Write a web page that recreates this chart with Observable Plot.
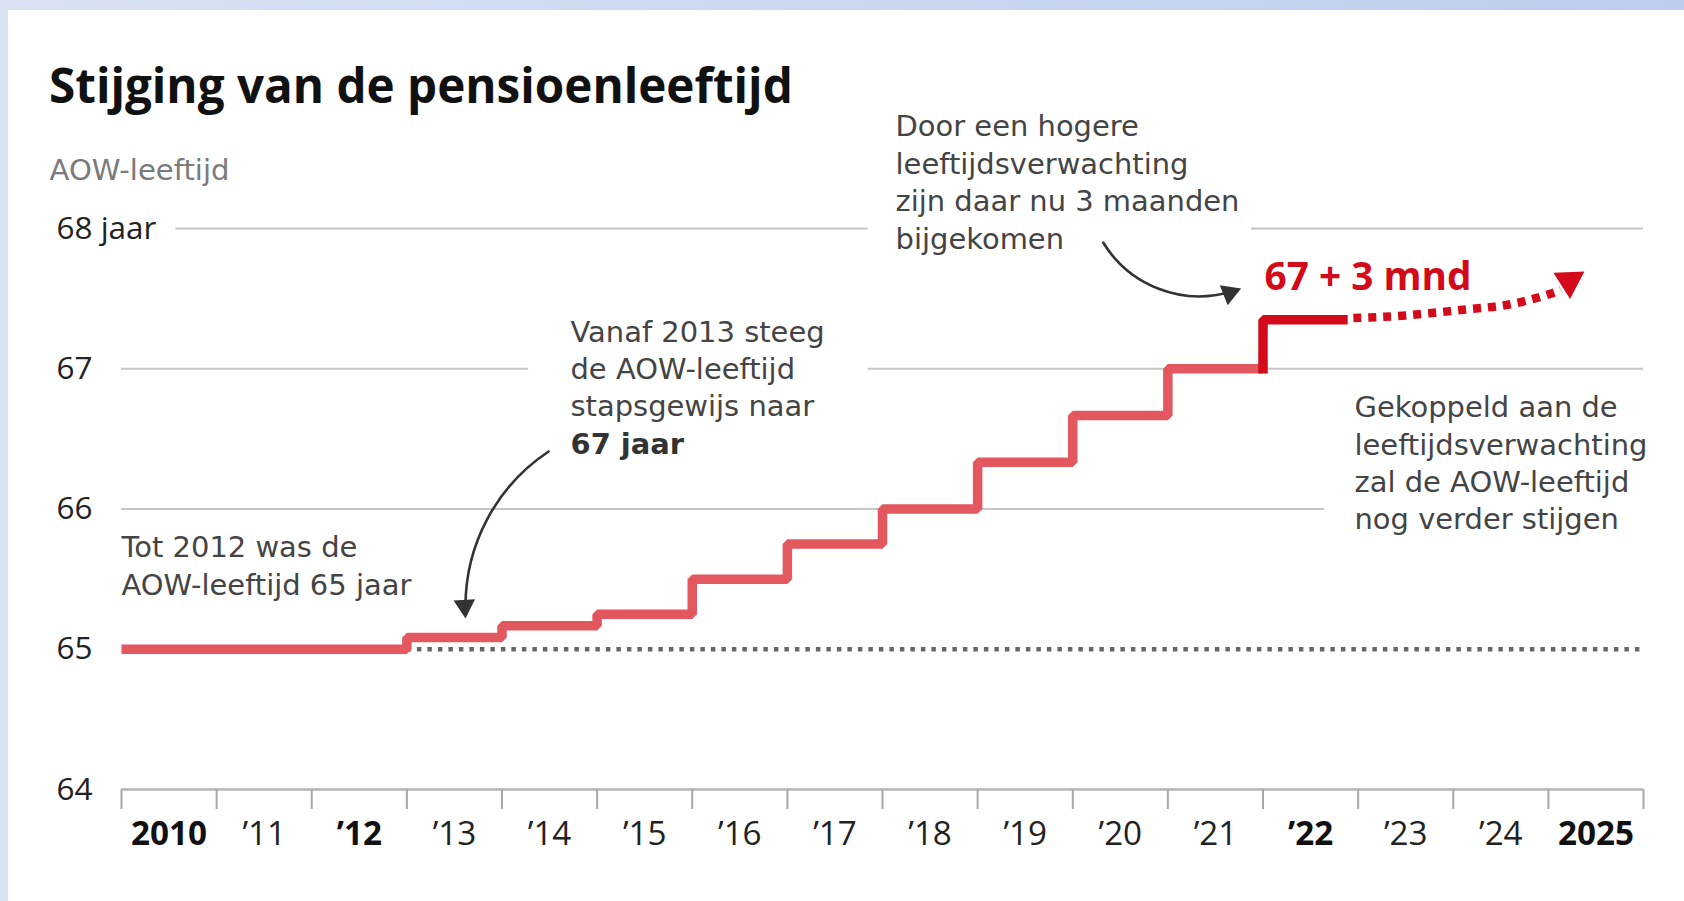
<!DOCTYPE html>
<html><head><meta charset="utf-8">
<script src="https://cdn.jsdelivr.net/npm/d3@7"></script>
<script src="https://cdn.jsdelivr.net/npm/@observablehq/plot@0.6"></script>
<style>
html,body{margin:0;padding:0;}
body{width:1684px;height:901px;overflow:hidden;background:linear-gradient(to right,#d8e2f3,#bccdee);position:relative;font-family:"Open Sans",sans-serif;}
#panel{position:absolute;left:8px;top:10px;width:1676px;height:891px;background:#fff;}
#title{position:absolute;left:41px;margin:0;font-weight:700;color:#111;line-height:1;white-space:nowrap;}
#chart{position:absolute;left:0;top:102px;}
</style></head><body>
<div id="panel"><h1 id="title">Stijging van de pensioenleeftijd</h1><div id="chart"></div></div>
<script>
// ---- data ----
const stepYears = [2010, 2013, 2014, 2015, 2016, 2017, 2018, 2019, 2020, 2021, 2022];
const stepAges  = [65, 65.083, 65.167, 65.25, 65.5, 65.75, 66, 66.333, 66.667, 67, 67];
const newYears  = [2022, 2022, 2022.84];
const newAges   = [67, 67.35, 67.35];
const trendYears = [2022.95, 2023.5, 2024.1, 2024.6, 2025.0, 2025.13];
const trendAges  = [67.362, 67.38, 67.42, 67.46, 67.53, 67.565];
const tipYear = 2025.22, tipAge = 67.625;

const yTicks = [64, 65, 66, 67, 68];
const yTickLabels = ["64", "65", "66", "67", "68 jaar"];
const tickYears = d3.range(2010, 2027);
const labelYears = d3.range(2010, 2026);
const labelTexts = ["2010", "’11", "’12", "’13", "’14", "’15", "’16", "’17", "’18", "’19", "’20", "’21", "’22", "’23", "’24", "2025"];
const boldYears = [2010, 2012, 2022, 2025];

const gridAges = [68, 68, 67, 67, 66];
const gridFrom = [2010.57, 2021.88, 2010, 2017.85, 2010];
const gridTo   = [2017.85, 2026, 2014.28, 2026, 2022.65];

const noteTexts = [
  "Door een hogere\nleeftijdsverwachting\nzijn daar nu 3 maanden\nbijgekomen",
  "Vanaf 2013 steeg\nde AOW-leeftijd\nstapsgewijs naar",
  "Tot 2012 was de\nAOW-leeftijd 65 jaar",
  "Gekoppeld aan de\nleeftijdsverwachting\nzal de AOW-leeftijd\nnog verder stijgen"
];
const noteYears = [2018.137, 2014.72, 2010.0, 2022.962];
const noteAges  = [67.857, 66.660, 65.390, 65.854];
const boldNote = "67 jaar", boldNoteYear = 2014.72, boldNoteAge = 66.389;
const bigLabel = "67 + 3 mnd", bigLabelYear = 2022.016, bigLabelAge = 67.558;

// annotation arrows: [x1, y1, x2, y2, bend]; filled heads: [year, age, rotate]
const arrowA = [2014.49, 66.410, 2013.62, 65.225, -30];
const arrowB = [2020.32, 67.900, 2021.76, 67.572, -40];
const headYears = [2013.608, 2021.648];
const headAges  = [65.308, 67.540];
const headRot   = [176.4, 68.5];

// ---- font fitting ----
const OPEN = '"Open Sans", sans-serif', DEJA = '"DejaVu Sans", sans-serif';
const ctx = document.createElement("canvas").getContext("2d");
function fit(text, weight, target, fam) { ctx.font = `${weight} 100px ${fam}`; return 100 * target / ctx.measureText(text).width; }
const fsTitle = fit("Stijging van de pensioenleeftijd", 700, 744, OPEN);
const fsNote = fit("leeftijdsverwachting", 400, 293, DEJA);
const fsSub = fit("AOW-leeftijd", 400, 180, DEJA);
const fsY = fit("68 jaar", 400, 100, OPEN);
const fsX = fit("2010", 700, 76, OPEN);
const fsBig = fit("67 + 3 mnd", 700, 207, OPEN);

const title = document.getElementById("title");
title.style.fontSize = fsTitle + "px";
title.style.top = (93 - 0.888 * fsTitle) + "px";

const RED = "#e2585e", DARK = "#d20a1a", INK = "#333";
const idx = a => a.map((_, i) => i);
const arrowMark = a => Plot.arrow([a], {x1: d => d[0], y1: d => d[1], x2: d => d[2], y2: d => d[3], bend: a[4], stroke: INK, strokeWidth: 2.6, headLength: 0, insetEnd: 10});

const chart = Plot.plot({
  width: 1676, height: 789,
  marginLeft: 113, marginRight: 41, marginTop: 116, marginBottom: 112,
  x: {domain: [2010, 2026], axis: null},
  y: {domain: [64, 68], axis: null},
  style: {fontFamily: OPEN, overflow: "visible", background: "transparent"},
  marks: [
    Plot.ruleY(idx(gridAges), {y: i => gridAges[i], x1: i => gridFrom[i], x2: i => gridTo[i], stroke: "#c6c6c6", strokeWidth: 2}),
    Plot.ruleY([65], {x1: 2013, x2: 2026, stroke: "#666", strokeWidth: 4.5, strokeDasharray: "4.5,6"}),
    Plot.ruleY([64], {stroke: "#b5b5b5", strokeWidth: 2.5}),
    Plot.axisX(tickYears, {tickSize: 20, tickFormat: () => "", stroke: "#a8a8a8", strokeWidth: 2, label: null}),
    Plot.line(idx(stepYears), {x: i => stepYears[i], y: i => stepAges[i], curve: "step-after", stroke: RED, strokeWidth: 9.5, strokeLinejoin: "miter", strokeLinecap: "butt"}),
    Plot.line(idx(newYears), {x: i => newYears[i], y: i => newAges[i], stroke: DARK, strokeWidth: 9.5, strokeLinejoin: "miter", strokeLinecap: "square"}),
    Plot.line(idx(trendYears), {x: i => trendYears[i], y: i => trendAges[i], curve: "natural", stroke: DARK, strokeWidth: 8.5, strokeDasharray: "8,7", strokeLinecap: "butt"}),
    Plot.dot([0], {x: () => tipYear, y: () => tipAge, symbol: "triangle", r: 11.5, fill: DARK, stroke: "none", rotate: 57.6}),
    arrowMark(arrowA),
    arrowMark(arrowB),
    Plot.dot(idx(headYears), {x: i => headYears[i], y: i => headAges[i], rotate: i => headRot[i], symbol: "triangle", r: 8, fill: INK, stroke: "none"}),
    Plot.text(noteTexts, {x: (d, i) => noteYears[i], y: (d, i) => noteAges[i], text: d => d, textAnchor: "start", lineAnchor: "bottom", lineHeight: 37.4 / fsNote, fontSize: fsNote, fontFamily: DEJA, fill: "#444"}),
    Plot.text([boldNote], {x: boldNoteYear, y: boldNoteAge, text: d => d, textAnchor: "start", lineAnchor: "bottom", fontSize: fsNote, fontFamily: DEJA, fontWeight: 700, fill: "#333"}),
    Plot.text([bigLabel], {x: bigLabelYear, y: bigLabelAge, text: d => d, textAnchor: "start", lineAnchor: "bottom", fontSize: fsBig, fontWeight: 700, fill: DARK}),
    Plot.text(yTicks, {y: d => d, frameAnchor: "left", dx: -65, textAnchor: "start", lineAnchor: "middle", text: (d, i) => yTickLabels[i], fontSize: fsY, fill: "#222"}),
    Plot.text(labelYears.filter(y => !boldYears.includes(y)), {x: d => d + 0.5, frameAnchor: "bottom", dy: 45, lineAnchor: "middle", text: d => labelTexts[d - 2010], fontSize: fsX, fontWeight: 400, fill: "#222"}),
    Plot.text(labelYears.filter(y => boldYears.includes(y)), {x: d => d + 0.5, frameAnchor: "bottom", dy: 45, lineAnchor: "middle", text: d => labelTexts[d - 2010], fontSize: fsX, fontWeight: 700, fill: "#111"}),
    Plot.text(["AOW-leeftijd"], {frameAnchor: "top-left", dx: -72, dy: -49, textAnchor: "start", lineAnchor: "bottom", text: d => d, fontSize: fsSub, fontFamily: DEJA, fill: "#7a7a7a"})
  ]
});
document.getElementById("chart").append(chart);
</script>
</body></html>
